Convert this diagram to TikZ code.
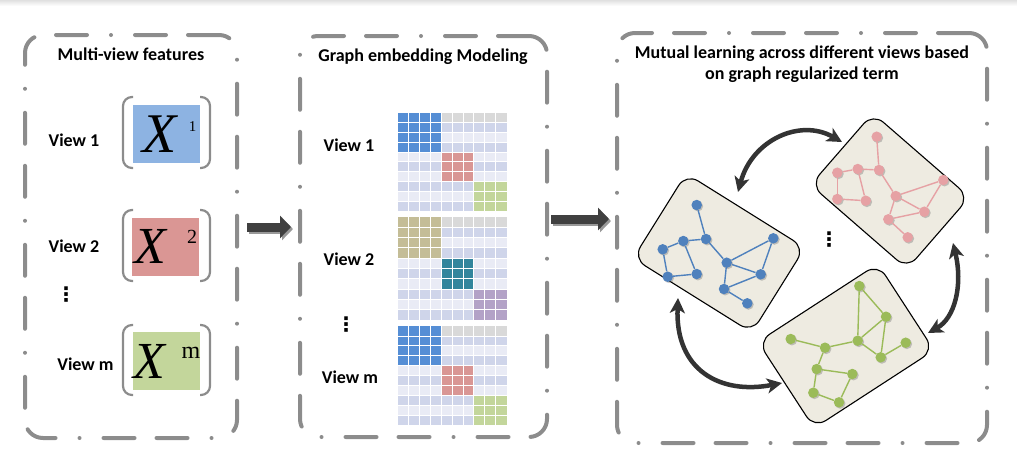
\documentclass[tikz,border=0pt]{standalone}
\usepackage{fontspec}
\setmainfont{Carlito}
\newfontfamily\timesfont{Liberation Serif}
\newfontfamily\symfont{DejaVu Sans}
\usetikzlibrary{arrows.meta,shadows}
\definecolor{panelgray}{HTML}{8C8C8C}
\definecolor{featblue}{HTML}{8DB3E2}
\definecolor{featred}{HTML}{DA9694}
\definecolor{featgreen}{HTML}{C3D69B}
\definecolor{matblue}{HTML}{558ED5}
\definecolor{matred}{HTML}{D99694}
\definecolor{matgreen}{HTML}{C3D69B}
\definecolor{mattan}{HTML}{C4BD97}
\definecolor{matteal}{HTML}{31859C}
\definecolor{matpurple}{HTML}{B3A2C7}
\definecolor{rowhead}{HTML}{D9D9D9}
\definecolor{rowdark}{HTML}{CFD5EA}
\definecolor{rowlight}{HTML}{E9EBF5}
\definecolor{viewfill}{HTML}{EEEBE1}
\definecolor{dotblue}{HTML}{4F81BD}
\definecolor{dotpink}{HTML}{E6A1A4}
\definecolor{dotgreen}{HTML}{9BBB59}
\definecolor{arrowdark}{HTML}{333333}
\definecolor{blockdark}{HTML}{404040}

\begin{document}
\begin{tikzpicture}[x=1pt,y=-1pt]

      \tikzset{panel/.style={draw=panelgray, line width=4pt, rounded corners=18pt, line cap=round,
                 dash pattern=on 31pt off 22pt on 31pt off 24pt on 0pt off 24pt, inner sep=0pt},
               heading/.style={font=\bfseries\fontsize{18}{21}\selectfont, anchor=base},
               featbox/.style={inner sep=0pt, minimum width=67pt, minimum height=58pt},
               bracket/.style={draw=panelgray, line width=2.2pt, rounded corners=9pt},
               bigx/.style={font=\timesfont\itshape\fontsize{#1}{#1}\selectfont, anchor=base, inner sep=0pt},
               supx/.style={font=\timesfont\fontsize{#1}{#1}\selectfont, anchor=base, inner sep=0pt},
               cellline/.style={white, line width=0.8pt},
               ellipsis/.style={font=\symfont\bfseries\fontsize{20}{20}\selectfont, inner sep=0pt},
               flowarrow/.style={blockdark, line width=9pt, -{Triangle[length=11pt, width=22pt]}},
               flowshadow/.style={black!40, line width=9pt, -{Triangle[length=11pt, width=22pt]}},
               viewbox/.style={draw, line width=1.1pt, fill=viewfill, rounded corners=14pt, inner sep=0pt},
               gdot/.style={circle, fill=#1, inner sep=0pt, minimum size=10.5pt,
                 drop shadow={shadow xshift=1.2pt, shadow yshift=-1.2pt, opacity=0.35, fill=black!60}},
               gedge/.style={draw=#1, line width=1.4pt},
               mutual/.style={arrowdark, line width=4.5pt, {Stealth[length=15pt, width=15pt, inset=4pt]}-{Stealth[length=15pt, width=15pt, inset=4pt]}}}

      \useasboundingbox (0,0) rectangle (1017,461);
      \shade[top color=black!12, bottom color=white] (0,0) rectangle (1017,6);

%% Panels
      \node[panel, minimum width=212pt, minimum height=403pt] (featpanel) at (131,236.5) {};
      \node[panel, minimum width=247pt, minimum height=401pt] (embpanel) at (423.5,236.5) {};
      \node[panel, minimum width=370pt, minimum height=410pt] (mutualpanel) at (802,238) {};

      \node[heading] (feattitle) at (131,60.7) {Multi-view features};
      \node[heading] (embtitle) at (423,61.7) {Graph embedding Modeling};
      \node[heading, anchor=center, align=center] (mutualtitle) at (802,64.5) {Mutual learning across different views based\\on graph regularized term};

%% Multi-view features
      \node[heading] (fview1) at (74,146.7) {View 1};
      \node[heading] (fview2) at (74,252) {View 2};
      \node[ellipsis] (fdots) at (66,294.5) {⋮};
      \node[heading] (fviewm) at (85.5,370.7) {View m};

      \node[featbox, fill=featblue] (x1) at (166.5,134) {};
      \node[featbox, fill=featred] (x2) at (165.5,246.5) {};
      \node[featbox, fill=featgreen] (xm) at (166,361) {};
      \foreach \top/\bot in {97/168, 210/281, 325/395}{
        \draw[bracket] (133,\top) -- (123,\top) -- (123,\bot) -- (133,\bot);
        \draw[bracket] (200,\top) -- (210,\top) -- (210,\bot) -- (200,\bot);
      }
      \node[bigx=56] at (160,152) {X};
      \node[supx=15] at (192.7,131.7) {1};
      \node[bigx=52] at (150,263) {X};
      \node[supx=20] at (192,243) {2};
      \node[bigx=52] at (149,378) {X};
      \node[supx=24] at (191,358) {m};

%% Graph embedding
      \node[heading] (eview1) at (349,151.7) {View 1};
      \node[heading] (eview2) at (349,265) {View 2};
      \node[ellipsis] (edots) at (346,325) {⋮};
      \node[heading] (eviewm) at (350,383) {View m};

      \foreach \top/\rh/\ca/\cb/\cc in {112.7/9.8pt/matblue/matred/matgreen,
                                       216.7/10.33pt/mattan/matteal/matpurple,
                                       326/9.9pt/matblue/matred/matgreen}{
        \begin{scope}[shift={(397.5,\top)}, x=10.9pt, y=-\rh]
          \fill[rowlight] (0,0) rectangle (10,10);
          \fill[rowhead] (0,0) rectangle (10,1);
          \foreach \r in {1,3,5,7,9} \fill[rowdark] (0,\r) rectangle (10,\r+1);
          \fill[\ca] (0,0) rectangle (4,4);
          \fill[\cb] (4,4) rectangle (7,7);
          \fill[\cc] (7,7) rectangle (10,10);
          \foreach \k in {1,...,9} \draw[cellline] (\k,0) -- (\k,10) (0,\k) -- (10,\k);
        \end{scope}
      }

%% Flow arrows
      \coordinate (fa1) at (247,227);
      \coordinate (fa2) at (291,227);
      \coordinate (ea1) at (551,219);
      \coordinate (ea2) at (609,219);
      \draw[flowshadow] ([shift={(2,2)}]fa1) -- ([shift={(2,2)}]fa2);
      \draw[flowarrow] (fa1) -- (fa2);
      \draw[flowshadow] ([shift={(2,2)}]ea1) -- ([shift={(2,2)}]ea2);
      \draw[flowarrow] (ea1) -- (ea2);

%% Views
      \node[viewbox, minimum width=140pt, minimum height=100pt, rotate=-32] (blueview) at (719,253) {};
      \node[viewbox, minimum width=128pt, minimum height=95pt, rotate=-41] (pinkview) at (890,191) {};
      \node[viewbox, minimum width=143pt, minimum height=103pt, rotate=33] (greenview) at (846,346) {};
      \node[ellipsis] (vdots) at (829,240) {⋮};

%% Blue graph
      \node[gdot=dotblue] (b1) at (696.7,205) {};
      \node[gdot=dotblue] (b2) at (706,239) {};
      \node[gdot=dotblue] (b3) at (683.3,241) {};
      \node[gdot=dotblue] (b4) at (662.7,249.3) {};
      \node[gdot=dotblue] (b5) at (667.7,276.7) {};
      \node[gdot=dotblue] (b6) at (696.7,274) {};
      \node[gdot=dotblue] (b7) at (726.7,262.7) {};
      \node[gdot=dotblue] (b8) at (773.3,238.3) {};
      \node[gdot=dotblue] (b9) at (760.7,274.3) {};
      \node[gdot=dotblue] (b10) at (724,289) {};
      \node[gdot=dotblue] (b11) at (747.3,303.3) {};
      \path[gedge=dotblue] (b1) edge (b2) (b2) edge (b3) (b3) edge (b4) (b4) edge (b5) (b5) edge (b6)
                           (b6) edge (b3) (b2) edge (b7) (b7) edge (b8) (b8) edge (b9) (b7) edge (b9)
                           (b7) edge (b10) (b10) edge (b9) (b10) edge (b11);

%% Pink graph
      \node[gdot=dotpink] (p1) at (876.7,136.7) {};
      \node[gdot=dotpink] (p2) at (879,170) {};
      \node[gdot=dotpink] (p3) at (857.7,169) {};
      \node[gdot=dotpink] (p4) at (837.3,172.7) {};
      \node[gdot=dotpink] (p5) at (837.3,199) {};
      \node[gdot=dotpink] (p6) at (865.7,200.7) {};
      \node[gdot=dotpink] (p7) at (895.7,196) {};
      \node[gdot=dotpink] (p8) at (943.3,180) {};
      \node[gdot=dotpink] (p9) at (924.3,211.7) {};
      \node[gdot=dotpink] (p10) at (888.3,219.3) {};
      \node[gdot=dotpink] (p11) at (907.7,237.3) {};
      \path[gedge=dotpink] (p1) edge (p2) (p2) edge (p3) (p3) edge (p4) (p4) edge (p5) (p5) edge (p6)
                           (p6) edge (p3) (p2) edge (p7) (p7) edge (p8) (p8) edge (p9) (p7) edge (p9)
                           (p7) edge (p10) (p10) edge (p9) (p10) edge (p11);

%% Green graph
      \node[gdot=dotgreen] (g1) at (859.3,286) {};
      \node[gdot=dotgreen] (g2) at (886,316.7) {};
      \node[gdot=dotgreen] (g3) at (857.7,340.7) {};
      \node[gdot=dotgreen] (g4) at (905.7,342.7) {};
      \node[gdot=dotgreen] (g5) at (880.7,357.3) {};
      \node[gdot=dotgreen] (g6) at (825,347.7) {};
      \node[gdot=dotgreen] (g7) at (790.7,339) {};
      \node[gdot=dotgreen] (g8) at (816.7,369) {};
      \node[gdot=dotgreen] (g9) at (852.3,374) {};
      \node[gdot=dotgreen] (g10) at (813.3,392.7) {};
      \node[gdot=dotgreen] (g11) at (839,402.3) {};
      \path[gedge=dotgreen] (g1) edge (g3) (g1) edge (g2) (g2) edge (g3) (g2) edge (g5) (g3) edge (g5)
                            (g5) edge (g4) (g3) edge (g6) (g6) edge (g7) (g6) edge (g8) (g8) edge (g9)
                            (g8) edge (g10) (g10) edge (g11) (g11) edge (g9);

%% Mutual arrows
      \coordinate (bluetop) at (738,192);
      \coordinate (pinkleft) at (842,142);
      \coordinate (bluebottom) at (678,298);
      \coordinate (greenleft) at (782,383);
      \coordinate (pinkbottom) at (953,243);
      \coordinate (greenright) at (928,333);
      \draw[mutual] (bluetop) .. controls (752,140) and (800,118) .. (pinkleft);
      \draw[mutual] (bluebottom) .. controls (675,370) and (720,395) .. (greenleft);
      \draw[mutual] (pinkbottom) .. controls (963,285) and (955,318) .. (greenright);

\end{tikzpicture}
\end{document}
